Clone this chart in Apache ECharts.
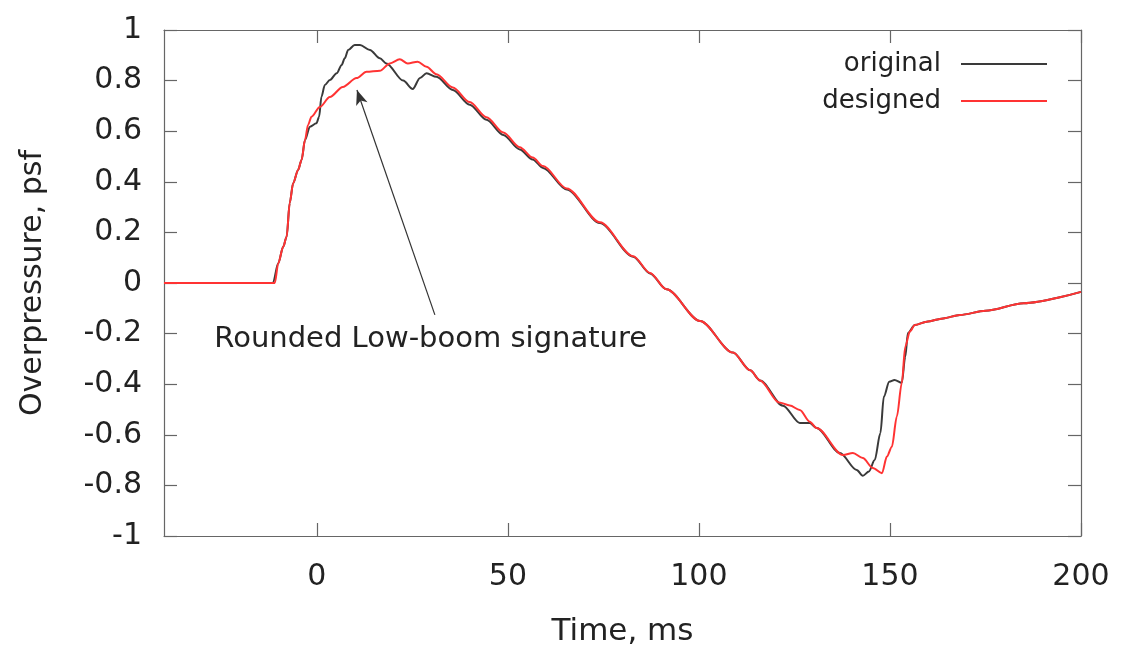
<!DOCTYPE html>
<html>
<head>
<meta charset="utf-8">
<script src="https://cdn.jsdelivr.net/npm/echarts@6/dist/echarts.min.js"></script>
<style>
  html, body { margin: 0; padding: 0; background: #fff; }
  #chart { width: 1127px; height: 664px; }
</style>
</head>
<body>
<div id="chart"></div>
<script>
// time (ms) / overpressure (psf)
var origTime = [-40, -11.5, -10.1, -8.8, -7.9, -7.1, -6.2, -4.9, -4.0, -3.1, -1.8, -0.1, 0.6, 1.2, 2.1, 3.4, 5.2, 6.5, 7.3, 8.2, 9.9, 11.3, 13.9, 16.5, 18.2, 22.6, 25.1, 27, 28.7, 31.3, 35.6, 40, 44.4, 48.8, 53.1, 56.5, 59.2, 65.4, 74.1, 82.8, 87.2, 91.5, 100.3, 108.9, 113.4, 116, 122, 126.4, 129, 130.8, 136.9, 141.3, 142.9, 144.5, 146, 147.5, 148.4, 149.8, 151.2, 153.1, 154, 154.7, 156.5, 159.6, 163.9, 168.3, 175, 185, 200];
var origValue = [0, 0, 0.078, 0.143, 0.183, 0.316, 0.394, 0.447, 0.486, 0.565, 0.618, 0.631, 0.657, 0.736, 0.783, 0.802, 0.829, 0.862, 0.888, 0.921, 0.941, 0.941, 0.921, 0.888, 0.868, 0.80, 0.767, 0.81, 0.829, 0.815, 0.763, 0.705, 0.645, 0.585, 0.528, 0.488, 0.455, 0.37, 0.237, 0.104, 0.038, -0.025, -0.15, -0.275, -0.345, -0.385, -0.485, -0.553, -0.553, -0.573, -0.672, -0.739, -0.762, -0.745, -0.70, -0.593, -0.449, -0.39, -0.383, -0.395, -0.291, -0.198, -0.166, -0.153, -0.14, -0.126, -0.11, -0.08, -0.035];

var desTime = [-40, -11, -10.1, -8.8, -7.9, -7.1, -6.2, -4.9, -4.0, -3.1, -2.3, -1.4, 0.8, 3.4, 6.8, 10.4, 13, 16.5, 19.1, 21.7, 23.8, 26.4, 28.7, 31.3, 35.6, 40, 44.4, 48.8, 53.1, 56.5, 59.2, 65.4, 74.1, 82.8, 87.2, 91.5, 100.3, 108.9, 113.4, 116, 121, 123.8, 126.4, 129, 130.8, 137.7, 140.3, 142.9, 145.5, 147.9, 149.2, 150.5, 151.8, 153.1, 154, 155.2, 156.5, 159.6, 163.9, 168.3, 175, 185, 200];
var desValue = [0, 0, 0.078, 0.143, 0.183, 0.316, 0.394, 0.447, 0.486, 0.565, 0.625, 0.657, 0.696, 0.735, 0.775, 0.81, 0.835, 0.839, 0.868, 0.884, 0.868, 0.875, 0.855, 0.825, 0.773, 0.715, 0.655, 0.595, 0.537, 0.496, 0.462, 0.374, 0.24, 0.106, 0.04, -0.025, -0.15, -0.275, -0.345, -0.385, -0.472, -0.484, -0.502, -0.548, -0.573, -0.68, -0.672, -0.692, -0.731, -0.752, -0.686, -0.647, -0.528, -0.395, -0.252, -0.192, -0.166, -0.153, -0.14, -0.126, -0.11, -0.08, -0.035];

var seriesNames = ['original', 'designed'];
var timeTicks = [0, 50, 100, 150, 200];

// annotation: arrow tail / tip and text centre, in data units
var arrowFrom = [30.9, -0.126];
var arrowTo = [10.5, 0.763];
var noteAt = [29.8, -0.222];
var noteText = 'Rounded Low-boom signature';

function pairs(xs, ys) {
  var out = [];
  for (var i = 0; i < xs.length; i++) out.push([xs[i], ys[i]]);
  return out;
}

var font = '"DejaVu Sans", Verdana, sans-serif';
var frame = { show: true, onZero: false, lineStyle: { color: '#666', width: 1.2 } };
var tick = { show: true, inside: true, length: 13, lineStyle: { color: '#666', width: 1.2 } };

var chart = echarts.init(document.getElementById('chart'));
chart.setOption({
  animation: false,
  backgroundColor: '#fff',
  grid: { left: 164, right: 46, top: 30, bottom: 128 },
  legend: {
    orient: 'vertical',
    right: 75,
    top: 44,
    align: 'right',
    icon: 'rect',
    itemWidth: 86,
    itemHeight: 2,
    itemGap: 7,
    textStyle: { fontFamily: font, fontSize: 26, color: '#222', lineHeight: 30, padding: [0, 15, 0, 0] },
    data: seriesNames
  },
  xAxis: [{
    type: 'value',
    min: -40,
    max: 200,
    name: 'Time, ms',
    nameLocation: 'middle',
    nameGap: 80,
    nameTextStyle: { fontFamily: font, fontSize: 31, color: '#222' },
    axisLine: frame,
    axisTick: Object.assign({ customValues: timeTicks }, tick),
    axisLabel: { customValues: timeTicks, fontFamily: font, fontSize: 30, color: '#222', margin: 26 },
    splitLine: { show: false }
  }, {
    type: 'value',
    position: 'top',
    min: -40,
    max: 200,
    axisLine: frame,
    axisTick: Object.assign({ customValues: timeTicks }, tick),
    axisLabel: { show: false },
    splitLine: { show: false }
  }],
  yAxis: [{
    type: 'value',
    min: -1,
    max: 1,
    interval: 0.2,
    name: 'Overpressure, psf',
    nameLocation: 'middle',
    nameGap: 116,
    nameTextStyle: { fontFamily: font, fontSize: 30, color: '#222' },
    axisLine: frame,
    axisTick: tick,
    axisLabel: { fontFamily: font, fontSize: 30, color: '#222', margin: 22 },
    splitLine: { show: false }
  }, {
    type: 'value',
    position: 'right',
    min: -1,
    max: 1,
    interval: 0.2,
    axisLine: frame,
    axisTick: tick,
    axisLabel: { show: false },
    splitLine: { show: false }
  }],
  series: [{
    name: seriesNames[0],
    type: 'line',
    data: pairs(origTime, origValue),
    showSymbol: false,
    smooth: 0.3,
    smoothMonotone: 'x',
    color: '#3a3a3a',
    lineStyle: { color: '#3a3a3a', width: 2 },
    z: 3,
    markLine: {
      silent: true,
      symbol: ['none', 'arrow'],
      symbolSize: [9, 15],
      label: { show: false },
      lineStyle: { color: '#333', width: 1.2, type: 'solid' },
      data: [[{ coord: arrowFrom }, { coord: arrowTo }]]
    },
    markPoint: {
      silent: true,
      symbolSize: 0,
      label: { show: true, position: 'inside', formatter: noteText, fontFamily: font, fontSize: 29, color: '#222' },
      data: [{ coord: noteAt }]
    }
  }, {
    name: seriesNames[1],
    type: 'line',
    data: pairs(desTime, desValue),
    showSymbol: false,
    smooth: 0.3,
    smoothMonotone: 'x',
    color: '#ff3333',
    lineStyle: { color: '#ff3333', width: 2 },
    z: 4
  }]
});
</script>
</body>
</html>
